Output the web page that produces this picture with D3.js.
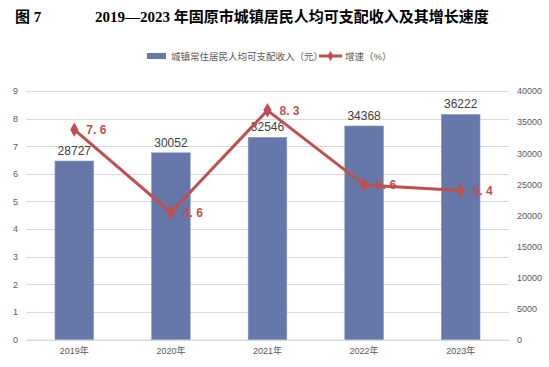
<!DOCTYPE html>
<html>
<head>
<meta charset="utf-8">
<script src="https://cdn.jsdelivr.net/npm/d3@7"></script>
<style>
  body { margin: 0; background: #fff; }
  svg { display: block; }
</style>
</head>
<body>
<div id="chart"></div>
<script>
const years = ['2019年', '2020年', '2021年', '2022年', '2023年'];
const income = [28727, 30052, 32546, 34368, 36222];
const growth = [7.6, 4.6, 8.3, 5.6, 5.4];
const leftTicks = [0, 1, 2, 3, 4, 5, 6, 7, 8, 9];
const rightTicks = [0, 5000, 10000, 15000, 20000, 25000, 30000, 35000, 40000];

const W = 549;
const H = 367;
const plot = { left: 26, right: 509, top: 91, bottom: 339.5 };
const barColor = '#6677a9';
const lineColor = '#c0504d';
const axisFont = 'Arial, "Liberation Sans", "Noto Sans CJK SC", sans-serif';

const svg = d3.select('#chart').append('svg')
  .attr('width', W)
  .attr('height', H);

// title
svg.append('text')
  .attr('x', 15).attr('y', 22)
  .style('font-family', '"Liberation Serif", "Noto Sans CJK SC", serif')
  .style('font-weight', 'bold')
  .style('font-size', '15px')
  .text('图 7');
svg.append('text')
  .attr('x', 95).attr('y', 22)
  .style('font-family', '"Liberation Serif", "Noto Sans CJK SC", serif')
  .style('font-weight', 'bold')
  .style('font-size', '15px')
  .text('2019—2023 年固原市城镇居民人均可支配收入及其增长速度');

const x = d3.scaleBand()
  .domain(years)
  .range([plot.left, plot.right])
  .paddingInner(0.6)
  .paddingOuter(0.3);

const yLeft = d3.scaleLinear().domain([0, 9]).range([plot.bottom, plot.top]);
const yRight = d3.scaleLinear().domain([0, 40000]).range([plot.bottom, plot.top]);

// gridlines follow the left axis
svg.append('g')
  .selectAll('line')
  .data(leftTicks)
  .join('line')
  .attr('x1', plot.left).attr('x2', plot.right)
  .attr('y1', d => Math.round(yLeft(d)) + 0.5)
  .attr('y2', d => Math.round(yLeft(d)) + 0.5)
  .style('stroke', '#d9d9d9')
  .style('stroke-width', 1);

// left axis
const leftAxis = svg.append('g')
  .attr('transform', `translate(${plot.left},0)`)
  .call(d3.axisLeft(yLeft).tickValues(leftTicks).tickSize(0).tickPadding(8));
leftAxis.select('.domain').remove();

// right axis
const rightAxis = svg.append('g')
  .attr('transform', `translate(${plot.right},0)`)
  .call(d3.axisRight(yRight).tickValues(rightTicks).tickFormat(d3.format('d')).tickSize(0).tickPadding(8));
rightAxis.select('.domain').remove();

// bottom axis
const bottomAxis = svg.append('g')
  .attr('transform', `translate(0,${plot.bottom})`)
  .call(d3.axisBottom(x).tickSize(0).tickPadding(8));
bottomAxis.select('.domain')
  .attr('d', `M${plot.left},0.5H${plot.right}`)
  .style('stroke', '#d9d9d9');

svg.selectAll('.tick text')
  .style('font-family', axisFont)
  .style('font-size', '9px')
  .style('fill', '#595959');

// bars
svg.append('g')
  .selectAll('rect')
  .data(income)
  .join('rect')
  .attr('x', (d, i) => x(years[i]))
  .attr('width', x.bandwidth())
  .attr('y', d => yRight(d))
  .attr('height', d => plot.bottom - yRight(d))
  .style('fill', barColor)
  .style('stroke', '#8a98c0')
  .style('stroke-width', 0.6);

svg.append('g')
  .selectAll('text')
  .data(income)
  .join('text')
  .attr('x', (d, i) => x(years[i]) + x.bandwidth() / 2)
  .attr('y', d => yRight(d) - 6)
  .attr('text-anchor', 'middle')
  .style('font-family', axisFont)
  .style('font-size', '12px')
  .style('fill', '#404040')
  .text(d => d);

// growth labels sit under the line, as in the original
const cx = i => x(years[i]) + x.bandwidth() / 2;
svg.append('g')
  .selectAll('text')
  .data(growth)
  .join('text')
  .attr('x', (d, i) => cx(i) + 12)
  .attr('y', d => yLeft(d) + 4.5)
  .style('font-family', axisFont)
  .style('font-size', '12px')
  .style('font-weight', 'bold')
  .style('fill', lineColor)
  .text(d => d.toFixed(1).replace('.', '. '));

const line = d3.line()
  .x((d, i) => cx(i))
  .y(d => yLeft(d));

svg.append('path')
  .datum(growth)
  .attr('d', line)
  .style('fill', 'none')
  .style('stroke', lineColor)
  .style('stroke-width', 3)
  .style('stroke-linejoin', 'round');

const diamond = d3.symbol().type(d3.symbolDiamond).size(60);
svg.append('g')
  .selectAll('path')
  .data(growth)
  .join('path')
  .attr('transform', (d, i) => `translate(${cx(i)},${yLeft(d)})`)
  .attr('d', diamond)
  .style('fill', lineColor);

// legend
const legend = svg.append('g').attr('transform', 'translate(0,56)');
legend.append('rect')
  .attr('x', 147).attr('y', -3).attr('width', 19).attr('height', 6)
  .style('fill', barColor);
legend.append('text')
  .attr('x', 171).attr('y', 3.5)
  .style('font-family', axisFont)
  .style('font-size', '9.5px')
  .style('fill', '#595959')
  .text('城镇常住居民人均可支配收入（元）');
legend.append('line')
  .attr('x1', 319).attr('x2', 342).attr('y1', 0).attr('y2', 0)
  .style('stroke', lineColor)
  .style('stroke-width', 3);
legend.append('path')
  .attr('transform', 'translate(330.5,0)')
  .attr('d', d3.symbol().type(d3.symbolDiamond).size(30))
  .style('fill', lineColor);
legend.append('text')
  .attr('x', 345).attr('y', 3.5)
  .style('font-family', axisFont)
  .style('font-size', '9.5px')
  .style('fill', '#595959')
  .text('增速（%）');
</script>
</body>
</html>
